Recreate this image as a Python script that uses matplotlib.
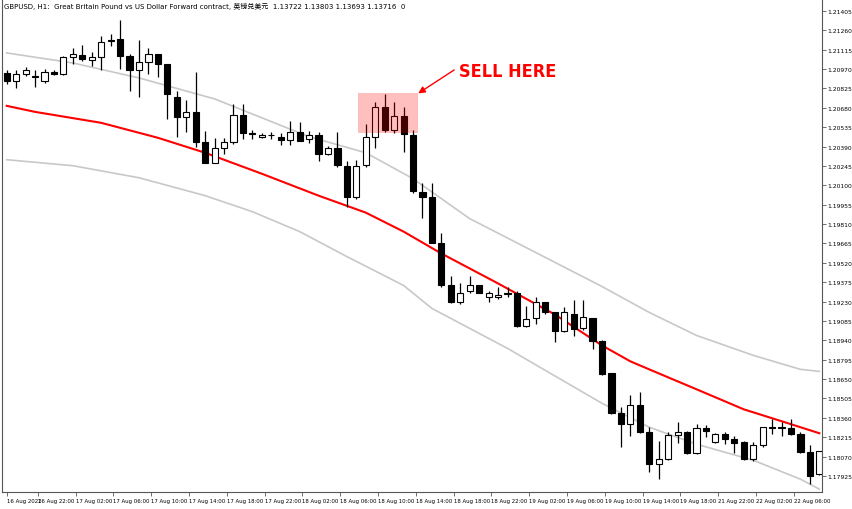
import numpy as np
import matplotlib.pyplot as plt

plt.rcParams['font.family'] = ['DejaVu Sans', 'Noto Sans CJK SC']

# H1 candles (open, high, low, close)
opens = [1.20942, 1.20882, 1.20934, 1.20919, 1.20882, 1.20949, 1.20934, 1.21061, 1.21076, 1.21039,
         1.21061, 1.21188, 1.21196, 1.21069, 1.20964, 1.21024, 1.21084, 1.21009, 1.20762, 1.20613,
         1.20650, 1.20426, 1.20269, 1.20381, 1.20426, 1.20628, 1.20493, 1.20464, 1.20479, 1.20464,
         1.20441, 1.20501, 1.20449, 1.20479, 1.20337, 1.20381, 1.20247, 1.20015, 1.20254, 1.20464,
         1.20688, 1.20516, 1.20620, 1.20479, 1.20053, 1.20015, 1.19672, 1.19358, 1.19224, 1.19306,
         1.19351, 1.19261, 1.19261, 1.19291, 1.19291, 1.19044, 1.19104, 1.19224, 1.19149, 1.19007,
         1.19141, 1.19029, 1.19104, 1.18932, 1.18693, 1.18394, 1.18312, 1.18454, 1.18252, 1.18013,
         1.18051, 1.18230, 1.18252, 1.18096, 1.18282, 1.18178, 1.18238, 1.18200, 1.18178, 1.18051,
         1.18155, 1.18290, 1.18290, 1.18282, 1.18238, 1.18103, 1.17939]
highs = [1.20964, 1.20964, 1.20987, 1.20964, 1.20972, 1.20964, 1.21069, 1.21128, 1.21151, 1.21099,
         1.21218, 1.21233, 1.21338, 1.21084, 1.21188, 1.21128, 1.21084, 1.21009, 1.20807, 1.20740,
         1.20949, 1.20508, 1.20456, 1.20456, 1.20710, 1.20710, 1.20516, 1.20493, 1.20501, 1.20493,
         1.20583, 1.20576, 1.20508, 1.20501, 1.20396, 1.20501, 1.20284, 1.20292, 1.20561, 1.20725,
         1.20785, 1.20725, 1.20688, 1.20516, 1.20120, 1.20120, 1.19746, 1.19418, 1.19366, 1.19425,
         1.19351, 1.19313, 1.19336, 1.19336, 1.19306, 1.19194, 1.19261, 1.19224, 1.19149, 1.19186,
         1.19239, 1.19239, 1.19104, 1.18940, 1.18693, 1.18439, 1.18529, 1.18551, 1.18290, 1.18185,
         1.18252, 1.18327, 1.18260, 1.18312, 1.18305, 1.18245, 1.18252, 1.18223, 1.18185, 1.18178,
         1.18290, 1.18350, 1.18327, 1.18350, 1.18252, 1.18155, 1.18111]
lows = [1.20860, 1.20830, 1.20919, 1.20837, 1.20867, 1.20927, 1.20927, 1.21009, 1.21031, 1.20994,
        1.20964, 1.21143, 1.20972, 1.20807, 1.20762, 1.20934, 1.20912, 1.20598, 1.20464, 1.20501,
        1.20389, 1.20269, 1.20269, 1.20337, 1.20411, 1.20449, 1.20449, 1.20456, 1.20449, 1.20404,
        1.20404, 1.20434, 1.20419, 1.20284, 1.20329, 1.20240, 1.19941, 1.20000, 1.20240, 1.20381,
        1.20501, 1.20493, 1.20352, 1.20045, 1.19859, 1.19672, 1.19343, 1.19216, 1.19209, 1.19298,
        1.19291, 1.19224, 1.19253, 1.19261, 1.19037, 1.19037, 1.19059, 1.19134, 1.18925, 1.18999,
        1.18970, 1.19014, 1.18872, 1.18678, 1.18387, 1.18140, 1.18223, 1.18245, 1.17954, 1.17901,
        1.18043, 1.18170, 1.18088, 1.18088, 1.18215, 1.18170, 1.18163, 1.18096, 1.18043, 1.18036,
        1.18140, 1.18238, 1.18223, 1.18230, 1.18096, 1.17864, 1.17931]
closes = [1.20882, 1.20934, 1.20964, 1.20912, 1.20949, 1.20934, 1.21061, 1.21084, 1.21046, 1.21061,
          1.21173, 1.21184, 1.21069, 1.20964, 1.21024, 1.21084, 1.21009, 1.20785, 1.20613, 1.20650,
          1.20426, 1.20269, 1.20381, 1.20426, 1.20628, 1.20493, 1.20486, 1.20479, 1.20475, 1.20441,
          1.20501, 1.20434, 1.20479, 1.20337, 1.20381, 1.20254, 1.20015, 1.20247, 1.20464, 1.20688,
          1.20516, 1.20620, 1.20486, 1.20060, 1.20015, 1.19672, 1.19351, 1.19224, 1.19298, 1.19351,
          1.19298, 1.19291, 1.19276, 1.19287, 1.19044, 1.19097, 1.19224, 1.19149, 1.19007, 1.19149,
          1.19022, 1.19112, 1.18932, 1.18686, 1.18394, 1.18312, 1.18454, 1.18252, 1.18013, 1.18051,
          1.18230, 1.18252, 1.18096, 1.18282, 1.18260, 1.18238, 1.18200, 1.18170, 1.18051, 1.18155,
          1.18290, 1.18286, 1.18286, 1.18238, 1.18103, 1.17924, 1.18111]

# moving average and envelope bands, read at selected bars
ma_bars = [0, 3, 10, 16, 21, 27, 33, 38, 42, 46, 52, 58, 63, 66, 69, 73, 78, 82, 86]
ma_vals = [1.20695, 1.20650, 1.20568, 1.20456, 1.20344, 1.20187, 1.20023, 1.19896, 1.19754, 1.19590,
           1.19366, 1.19134, 1.18902, 1.18783, 1.18693, 1.18574, 1.18424, 1.18335, 1.18245]
up_bars = [0, 7, 14, 22, 32, 38, 43, 49, 56, 63, 68, 73, 79, 84, 86]
up_vals = [1.21091, 1.21016, 1.20904, 1.20747, 1.20464, 1.20344, 1.20150, 1.19851, 1.19597, 1.19343,
           1.19149, 1.18977, 1.18828, 1.18723, 1.18708]
lo_bars = [0, 7, 14, 21, 26, 31, 36, 42, 45, 53, 63, 68, 73, 79, 84, 86]
lo_vals = [1.20292, 1.20247, 1.20157, 1.20023, 1.19903, 1.19754, 1.19567, 1.19351, 1.19179, 1.18880,
           1.18469, 1.18290, 1.18163, 1.18043, 1.17901, 1.17827]

xlabels = ["16 Aug 2022", "16 Aug 22:00", "17 Aug 02:00", "17 Aug 06:00", "17 Aug 10:00",
           "17 Aug 14:00", "17 Aug 18:00", "17 Aug 22:00", "18 Aug 02:00", "18 Aug 06:00",
           "18 Aug 10:00", "18 Aug 14:00", "18 Aug 18:00", "18 Aug 22:00", "19 Aug 02:00",
           "19 Aug 06:00", "19 Aug 10:00", "19 Aug 14:00", "19 Aug 18:00", "21 Aug 22:00",
           "22 Aug 02:00", "22 Aug 06:00"]
ylabels = ["1.21405", "1.21260", "1.21115", "1.20970", "1.20825", "1.20680", "1.20535", "1.20390",
           "1.20245", "1.20100", "1.19955", "1.19810", "1.19665", "1.19520", "1.19375", "1.19230",
           "1.19085", "1.18940", "1.18795", "1.18650", "1.18505", "1.18360", "1.18215", "1.18070",
           "1.17925"]

fig = plt.figure(figsize=(8.52, 5.10), dpi=100)
ax = fig.add_axes([0.002, 0.033, 0.963, 0.965])

o = np.array(opens); c = np.array(closes)
x = np.arange(len(o))
ax.plot(up_bars, up_vals, color='#c8c8c8', lw=1.2, zorder=1)
ax.plot(lo_bars, lo_vals, color='#c8c8c8', lw=1.2, zorder=1)
ax.plot(ma_bars, ma_vals, color='red', lw=1.5, zorder=2)

ax.vlines(x, lows, highs, color='black', lw=0.9, zorder=3)
up = c >= o
ax.bar(x[up], (c - o)[up], bottom=o[up], width=0.65, facecolor='white',
       edgecolor='black', lw=0.8, zorder=4)
ax.bar(x[~up], (o - c)[~up], bottom=c[~up], width=0.65, facecolor='black',
       edgecolor='black', lw=0.8, zorder=4)

# highlighted zone and annotation
ax.add_patch(plt.Rectangle((37.2, 1.20493), 6.3, 0.00299, facecolor='red', alpha=0.25,
                           edgecolor='none', zorder=5))
ax.annotate('', xy=(43.3, 1.20777), xytext=(47.6, 1.20975),
            arrowprops=dict(arrowstyle='-|>', color='red', lw=1, mutation_scale=10), zorder=6)
ax.text(47.9, 1.20957, 'SELL HERE', color='red', fontsize=13, fontweight='bold',
        fontstretch='condensed', va='center', ha='left', zorder=6)

ax.text(0.003, 0.997, 'GBPUSD, H1:  Great Britain Pound vs US Dollar Forward contract, 英镑兑美元  '
        '1.13722 1.13803 1.13693 1.13716  0', transform=ax.transAxes, fontsize=5,
        va='top', ha='left', family=['DejaVu Sans', 'Noto Sans CJK SC'])

ax.set_xlim(-0.53, 86.3)
ax.set_ylim(1.17804, 1.21487)
ax.yaxis.tick_right()
ax.set_yticks([float(s) for s in ylabels])
ax.set_yticklabels(ylabels, fontsize=4.3)
ax.set_xticks([0] + [3.3 + 4 * i for i in range(len(xlabels) - 1)])
ax.set_xticklabels(xlabels, fontsize=3.9, ha='left')
ax.tick_params(length=3, width=0.6, pad=1, color='#555555')
for s in ax.spines.values():
    s.set_color('#555555')
    s.set_linewidth(0.8)
ax.spines['top'].set_visible(False)

fig.savefig('out.png', dpi=100)
